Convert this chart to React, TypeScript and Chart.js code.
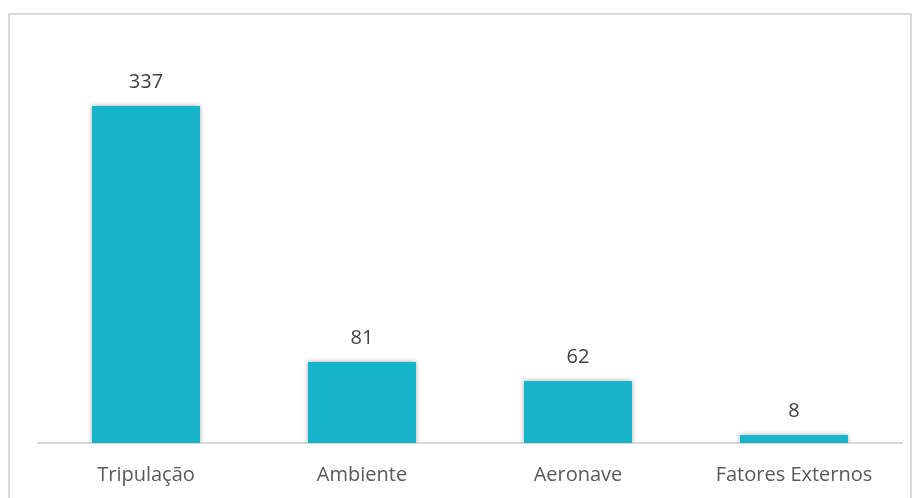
import React, { useEffect, useRef } from "react";
import { Chart, registerables } from "chart.js";

Chart.register(...registerables);

const categories = ["Tripulação", "Ambiente", "Aeronave", "Fatores Externos"];
const values = [337, 81, 62, 8];

export default function App() {
  const ref = useRef<HTMLCanvasElement | null>(null);
  useEffect(() => {
    if (!ref.current) return;
    const valueLabels = {
      id: "valueLabels",
      afterDatasetsDraw(chart: any) {
        const ctx = chart.ctx;
        const meta = chart.getDatasetMeta(0);
        ctx.save();
        ctx.font = "20px 'Open Sans'";
        ctx.fillStyle = "#404040";
        ctx.textAlign = "center";
        ctx.textBaseline = "alphabetic";
        meta.data.forEach((bar: any, i: number) => {
          ctx.fillText(String(values[i]), bar.x, bar.y - 18);
        });
        ctx.restore();
      },
    };
    const shadow = {
      id: "shadow",
      beforeDatasetsDraw(chart: any) {
        const ctx = chart.ctx;
        ctx.save();
        ctx.shadowColor = "rgba(0,0,0,0.35)";
        ctx.shadowBlur = 5;
        ctx.shadowOffsetX = 0;
        ctx.shadowOffsetY = 0;
      },
      afterDatasetsDraw(chart: any) {
        chart.ctx.restore();
      },
    };
    const chart = new Chart(ref.current, {
      type: "bar",
      data: {
        labels: categories,
        datasets: [
          {
            data: values,
            backgroundColor: "#17B5C9",
            borderWidth: 0,
            categoryPercentage: 0.5,
            barPercentage: 1,
          },
        ],
      },
      options: {
        animation: false,
        responsive: false,
        maintainAspectRatio: false,
        layout: { padding: { top: 43, left: 38, right: 15, bottom: 0 } },
        plugins: { legend: { display: false }, tooltip: { enabled: false } },
        scales: {
          y: { display: false, min: 0, max: 400 },
          x: {
            grid: { display: false, drawTicks: false },
            border: { display: true, color: "#d9d9d9", width: 2 },
            ticks: {
              padding: 20,
              color: "#595959",
              font: { family: "'Open Sans'", size: 20 },
              maxRotation: 0,
            },
            afterFit(scale: any) {
              scale.height = 55;
            },
          },
        },
      },
      plugins: [shadow, valueLabels],
    });
    return () => chart.destroy();
  }, []);
  return (
    <div style={{ position: "fixed", left: 0, top: 0, width: 917, height: 498, background: "#fff" }}>
      <div
        style={{
          position: "absolute",
          left: 8,
          top: 13,
          width: 900,
          height: 500,
          border: "2px solid #d9d9d9",
        }}
      />
      <canvas ref={ref} width={917} height={498} style={{ position: "absolute", left: 0, top: 0 }} />
    </div>
  );
}
